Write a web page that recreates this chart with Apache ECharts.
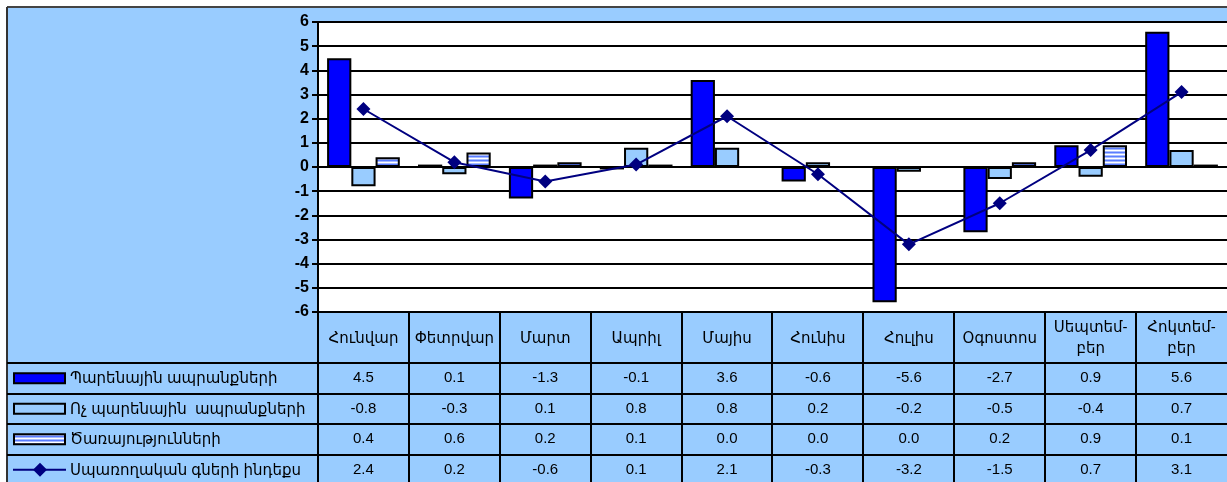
<!DOCTYPE html>
<html><head><meta charset="utf-8">
<script src="https://cdn.jsdelivr.net/npm/echarts@6/dist/echarts.min.js"></script>
<style>html,body{margin:0;padding:0;background:#fff}#c{width:1227px;height:482px}</style>
</head><body><div id="c"></div>
<script>
const months = ['Հունվար','Փետրվար','Մարտ','Ապրիլ','Մայիս','Հունիս','Հուլիս','Օգոստոս','Սեպտեմ-\nբեր','Հոկտեմ-\nբեր'];
const seriesNames = ['Պարենային ապրանքների','Ոչ պարենային  ապրանքների','Ծառայությունների','Սպառողական գների ինդեքս'];
const food = [4.5, 0.1, -1.3, -0.1, 3.6, -0.6, -5.6, -2.7, 0.9, 5.6];
const nonFood = [-0.8, -0.3, 0.1, 0.8, 0.8, 0.2, -0.2, -0.5, -0.4, 0.7];
const services = [0.4, 0.6, 0.2, 0.1, 0.0, 0.0, 0.0, 0.2, 0.9, 0.1];
const cpi = [2.4, 0.2, -0.6, 0.1, 2.1, -0.3, -3.2, -1.5, 0.7, 3.1];
const yMin = -6, yMax = 6, yStep = 1;

const FONT = "'Liberation Sans', Arial, 'DejaVu Sans', sans-serif";
const BG = '#99CCFF';

// stripe pattern
const pc = document.createElement('canvas');
pc.width = 4; pc.height = 4;
const pctx = pc.getContext('2d');
const stripeCols = ['#5A7CFF', '#A8BCFF', '#FFFFFF', '#A8BCFF'];
stripeCols.forEach((c, i) => { pctx.fillStyle = c; pctx.fillRect(0, i, 4, 1); });
const stripe = { image: pc, repeat: 'repeat' };

const barStyle = (fill) => ({ color: fill, borderColor: '#000', borderWidth: 2 });

const chart = echarts.init(document.getElementById('c'), null, { renderer: 'canvas' });
const GRID = { left: 318, right: 0, top: 22, bottom: 170 };
chart.setOption({
  backgroundColor: BG,
  animation: false,
  grid: { left: GRID.left, right: GRID.right, top: GRID.top, bottom: GRID.bottom, show: true, backgroundColor: '#fff', borderWidth: 0 },
  xAxis: {
    type: 'category', data: months,
    axisLine: { show: false }, axisTick: { show: false }, axisLabel: { show: false }, splitLine: { show: false }
  },
  yAxis: {
    type: 'value', min: yMin, max: yMax, interval: yStep,
    axisLine: { show: true, lineStyle: { color: '#000', width: 2 } },
    axisTick: { show: true, length: 6, lineStyle: { color: '#000', width: 2 } },
    axisLabel: { color: '#000', fontWeight: 'bold', fontSize: 16, fontFamily: FONT, margin: 9 },
    splitLine: { show: true, lineStyle: { color: '#000', width: 2 } }
  },
  series: [
    { name: seriesNames[0], type: 'bar', data: food, itemStyle: barStyle('#0000FF'), barGap: '0%', barCategoryGap: '20%' },
    { name: seriesNames[1], type: 'bar', data: nonFood, itemStyle: barStyle(BG), barGap: '0%', barCategoryGap: '20%' },
    { name: seriesNames[2], type: 'bar', data: services, itemStyle: barStyle(stripe), barGap: '0%', barCategoryGap: '20%' },
    { name: seriesNames[3], type: 'line', data: cpi, symbol: 'diamond', symbolSize: 14,
      lineStyle: { color: '#000080', width: 2 }, itemStyle: { color: '#000080' }, z: 5 }
  ]
});

// Data table built from the arrays, positioned with the category axis scale
const W = 1227, H = 482;
const plotBottom = H - GRID.bottom;
const headerH = 51, rowH = 30.5;
const centers = months.map((m, i) => chart.convertToPixel({ xAxisIndex: 0 }, i));
const band = centers.length > 1 ? centers[1] - centers[0] : 90;
const g = [];
// outer white margin and border
g.push({ type: 'rect', shape: { x: 0, y: 0, width: W, height: 7 }, style: { fill: '#fff' }, silent: true });
g.push({ type: 'rect', shape: { x: 0, y: 0, width: 7, height: H }, style: { fill: '#fff' }, silent: true });
g.push({ type: 'line', shape: { x1: 7, y1: 7, x2: W, y2: 7 }, style: { stroke: '#444', lineWidth: 2 } });
g.push({ type: 'line', shape: { x1: 7, y1: 7, x2: 7, y2: H }, style: { stroke: '#333', lineWidth: 2 } });
// vertical lines
for (let i = 0; i < months.length; i++) {
  const xb = Math.round(centers[i] - band / 2);
  g.push({ type: 'line', shape: { x1: xb, y1: plotBottom, x2: xb, y2: H }, style: { stroke: '#000', lineWidth: 2 } });
}
// horizontal lines
for (let r = 0; r < 4; r++) {
  const y = Math.round(plotBottom + headerH + r * rowH);
  g.push({ type: 'line', shape: { x1: 7, y1: y, x2: W, y2: y }, style: { stroke: '#000', lineWidth: 2 } });
}
// headers
months.forEach((m, i) => {
  g.push({ type: 'text', style: { text: m, x: centers[i], y: plotBottom + headerH / 2 + 1, align: 'center', verticalAlign: 'middle',
    fill: '#000', font: '15px ' + FONT, lineHeight: 21 } });
});
// rows
const rows = [food, nonFood, services, cpi];
rows.forEach((arr, r) => {
  const yc = plotBottom + headerH + r * rowH + rowH / 2;
  arr.forEach((v, i) => {
    g.push({ type: 'text', style: { text: v.toFixed(1), x: centers[i], y: yc, align: 'center', verticalAlign: 'middle', fill: '#000', font: '15px ' + FONT } });
  });
  g.push({ type: 'text', style: { text: seriesNames[r], x: 70, y: yc + 1, align: 'left', verticalAlign: 'middle', fill: '#000', font: '15px ' + FONT } });
  if (r < 3) {
    const fills = ['#0000FF', BG, stripe];
    g.push({ type: 'rect', shape: { x: 14, y: yc - 5, width: 51, height: 10 }, style: { fill: fills[r], stroke: '#000', lineWidth: 2 } });
  } else {
    g.push({ type: 'line', shape: { x1: 13, y1: yc, x2: 66, y2: yc }, style: { stroke: '#000080', lineWidth: 2 } });
    g.push({ type: 'polygon', shape: { points: [[40, yc - 7], [47, yc], [40, yc + 7], [33, yc]] }, style: { fill: '#000080' } });
  }
});
chart.setOption({ graphic: { elements: g } });
</script></body></html>
